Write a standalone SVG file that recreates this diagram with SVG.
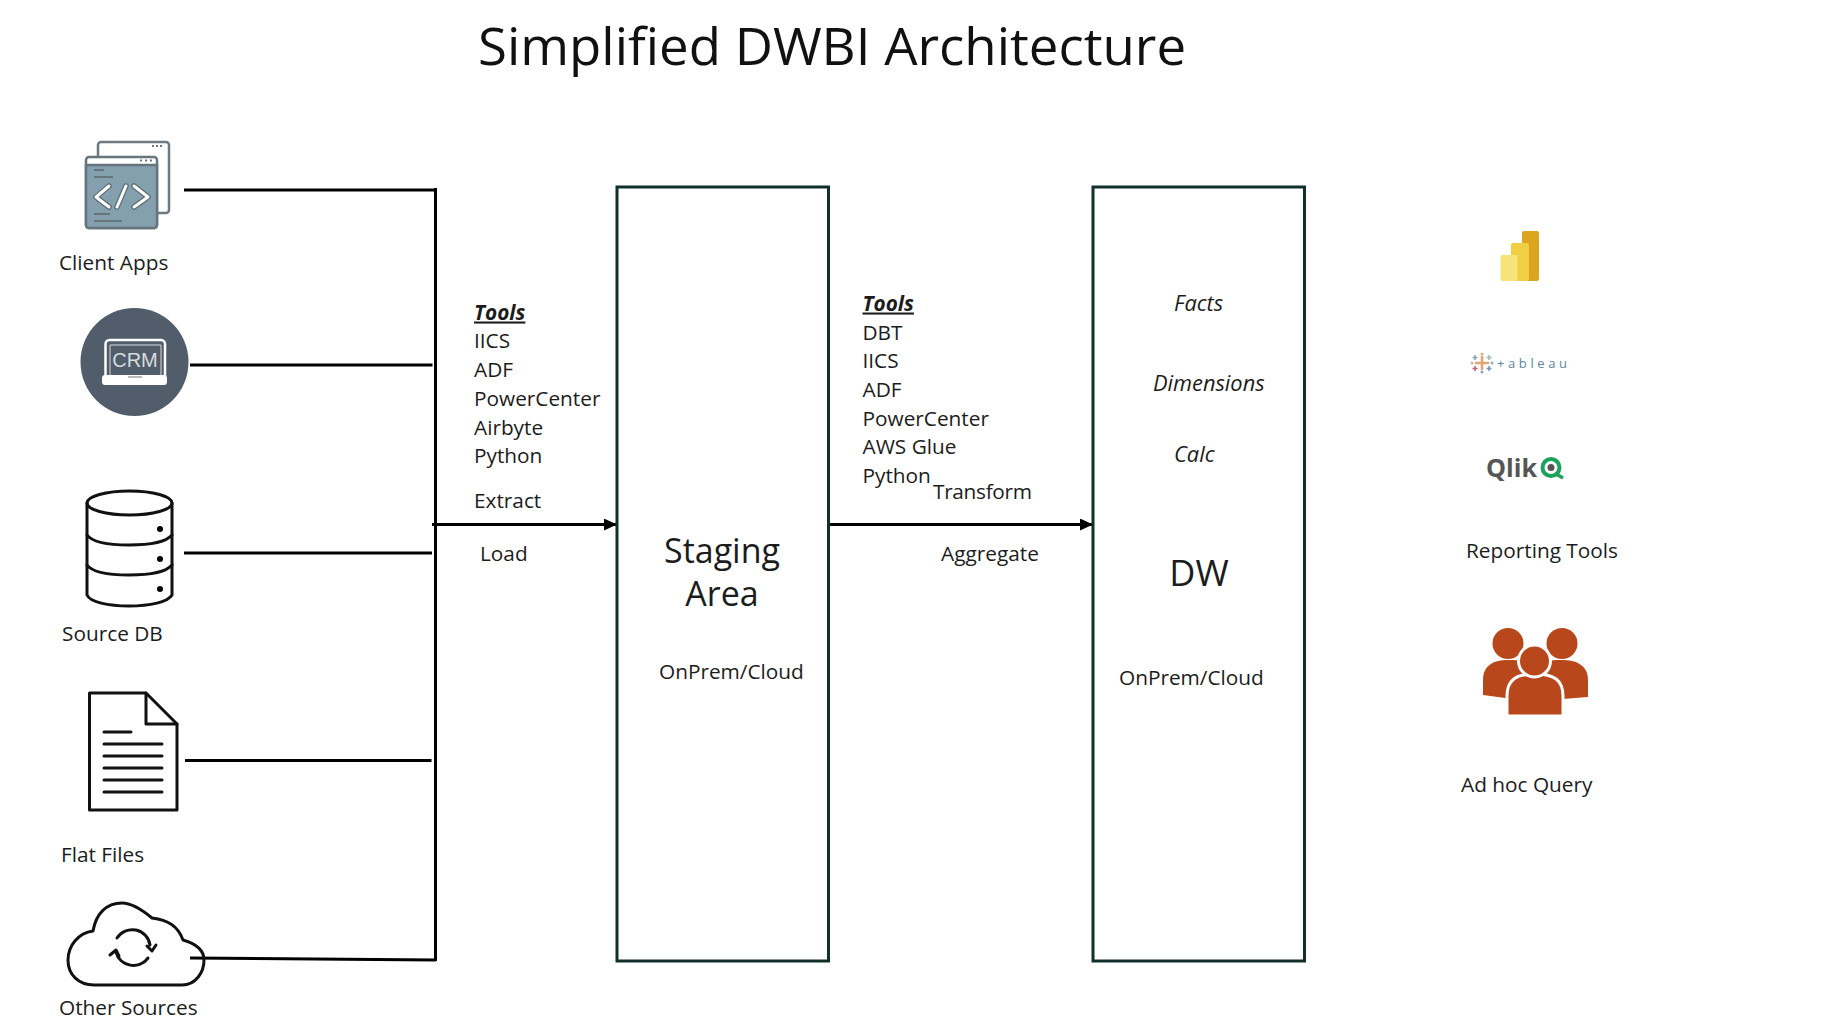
<svg xmlns="http://www.w3.org/2000/svg" width="1830" height="1029" viewBox="0 0 1830 1029">
<style>
text{font-family:"Open Sans","Noto Sans","Liberation Sans",sans-serif;font-size:20.8px;fill:#1c1c1c}
.i{font-style:italic;font-size:21.8px}
.h{font-style:italic;font-weight:700;text-decoration:underline}
.big{font-size:34px}
.box{fill:#fff;stroke:#12302b;stroke-width:3}
.c{fill:none;stroke:#000;stroke-width:3}
.k{fill:none;stroke:#111;stroke-width:3;stroke-linejoin:round;stroke-linecap:round}
</style>
<defs><marker id="a" markerWidth="13" markerHeight="12" refX="12" refY="6" orient="auto" markerUnits="userSpaceOnUse"><path d="M0 0L13 6L0 12z" fill="#000"/></marker></defs>
<rect width="1830" height="1029" fill="#fff"/>
<text id="title" x="478" y="64.500" style="font-size:51px;fill:#111" textLength="708" lengthAdjust="spacingAndGlyphs">Simplified DWBI Architecture</text>
<g id="connectors">
<path class="c" d="M184 190H436"/><path class="c" d="M190 365H432.500"/><path class="c" d="M184 553H432"/><path class="c" d="M185 760.500H431.500"/><path class="c" d="M190 958L436 960"/>
<path class="c" d="M435.500 188V961"/>
<path class="c" d="M432 524.500H616" marker-end="url(#a)"/>
<path class="c" d="M828 524.500H1092" marker-end="url(#a)"/>
</g>
<g id="client-apps">
<rect x="98" y="142" width="71" height="71" rx="3" fill="#fff" stroke="#6d7a80" stroke-width="2.500"/>
<path d="M152 146h2M156 146h2M160 146h2" stroke="#6d7a80" stroke-width="2"/>
<rect x="86" y="157" width="71" height="71" rx="3" fill="#fff" stroke="#66757b" stroke-width="2.500"/>
<path d="M140 160.500h2M145 160.500h2M150 160.500h2" stroke="#66757b" stroke-width="2"/>
<path d="M86 165V225a3 3 0 0 0 3 3H154a3 3 0 0 0 3-3V165z" fill="#84a0ae" stroke="#66757b" stroke-width="2.500"/>
<path d="M109 186L96 197L109 207M134 186L148 197L134 207M126 186L117 207" fill="none" stroke="#5c6c72" stroke-width="5.500" stroke-linecap="round" stroke-linejoin="round"/>
<path d="M109 186L96 197L109 207M134 186L148 197L134 207M126 186L117 207" fill="none" stroke="#fff" stroke-width="3" stroke-linecap="round" stroke-linejoin="round"/>
<path d="M94 170H104M94 177H113M94 214H110M94 221H122" stroke="#66757b" stroke-width="2"/>
<text x="59" y="270">Client Apps</text>
</g>
<g id="crm">
<circle cx="134.500" cy="362" r="54" fill="#515d6b"/>
<path d="M105.500 376V344a4 4 0 0 1 4-4H161a4 4 0 0 1 4 4V376" fill="none" stroke="#fff" stroke-width="2.500"/>
<path d="M110 376V345H161V376" fill="none" stroke="#d5d8dc" stroke-width="1"/>
<rect x="102" y="375" width="65" height="10" rx="3" fill="#fff"/>
<path d="M128 377H142" stroke="#9aa2aa" stroke-width="1.500"/>
<text x="135" y="367" text-anchor="middle" style="font-family:'Liberation Sans',sans-serif;font-size:20px;fill:#d8dbde">CRM</text>
</g>
<g id="source-db">
<path class="k" d="M87 503V595C90 602 108 606 129 606S168 602 172 595V503"/>
<ellipse class="k" cx="129.500" cy="503" rx="42.500" ry="12"/>
<path class="k" d="M87 535C92 542 108 545 129 545S166 542 172 535M87 565C92 572 108 575 129 575S166 572 172 565"/>
<circle cx="160" cy="529" r="3"/><circle cx="160" cy="559" r="3"/><circle cx="160" cy="589" r="3"/>
<text x="62" y="641">Source DB</text>
</g>
<g id="flat-files">
<path class="k" d="M89.500 693H146L177 724V810H89.500z"/>
<path class="k" d="M146 693V724H177"/>
<path d="M104 732H131M104 744H162M104 756H162M104 768H162M104 780H162M104 792H162" stroke="#111" stroke-width="3" stroke-linecap="round"/>
<text x="61" y="862">Flat Files</text>
</g>
<g id="other-sources">
<path class="k" d="M94 985H182C196 985 204 972 204 960C204 950 197 944 183 940C178 926 168 920 152 918C140 908 130 903 122 903C106 903 96 914 93 931C78 933 68 946 68 960C68 975 79 985 94 985z"/>
<path class="k" d="M117 938A18 18 0 0 1 150 945M148 958A18 18 0 0 1 116 952M147 946L152 951L156 945M110 955L116 950L119 956"/>
<text x="59" y="1015">Other Sources</text>
</g>
<g id="etl-tools">
<text class="h" x="474" y="319.500">Tools</text>
<text x="474" y="348">IICS</text><text x="474" y="377">ADF</text><text x="474" y="406">PowerCenter</text><text x="474" y="435">Airbyte</text><text x="474" y="463">Python</text>
<text x="474" y="508">Extract</text><text x="480" y="561">Load</text>
</g>
<g id="staging">
<rect class="box" x="617" y="187" width="211.500" height="774"/>
<text class="big" x="722" y="563" text-anchor="middle">Staging</text>
<text class="big" x="722" y="606" text-anchor="middle">Area</text>
<text x="659" y="679">OnPrem/Cloud</text>
</g>
<g id="elt-tools">
<text class="h" x="862.500" y="310.500">Tools</text>
<text x="862.500" y="340">DBT</text><text x="862.500" y="368">IICS</text><text x="862.500" y="397">ADF</text><text x="862.500" y="426">PowerCenter</text><text x="862.500" y="454">AWS Glue</text><text x="862.500" y="483">Python</text>
<text x="933" y="499" textLength="99">Transform</text><text x="941" y="561">Aggregate</text>
</g>
<g id="dw">
<rect class="box" x="1093" y="187" width="211.500" height="774"/>
<text class="i" x="1174" y="311">Facts</text><text class="i" x="1153" y="391">Dimensions</text><text class="i" x="1174" y="462">Calc</text>
<text class="big" x="1199" y="586" text-anchor="middle" style="font-size:36px">DW</text>
<text x="1119" y="685">OnPrem/Cloud</text>
</g>
<g id="power-bi">
<rect x="1522" y="231" width="17" height="50" rx="2" fill="#dba51f"/>
<rect x="1511" y="243" width="18" height="38" rx="2" fill="#f0cf45"/>
<rect x="1500.500" y="255" width="17" height="26" rx="2" fill="#f6e37a"/>
</g>
<g id="tableau" opacity="0.85">
<path d="M1482 356v14M1475 363h14" stroke="#e0935a" stroke-width="2.500"/>
<path d="M1475 355v5M1472.500 357.500h5" stroke="#6f97ad" stroke-width="1.500"/><path d="M1489 355v5M1486.500 357.500h5" stroke="#8fb0a0" stroke-width="1.500"/><path d="M1475 366v5M1472.500 368.500h5" stroke="#c0405f" stroke-width="1.500"/><path d="M1489 366v5M1486.500 368.500h5" stroke="#5c7f9e" stroke-width="1.500"/>
<circle cx="1482" cy="354" r="1.500" fill="#d8a070"/><circle cx="1482" cy="372" r="1.500" fill="#7090a8"/><circle cx="1472" cy="363" r="1.500" fill="#c9a890"/><circle cx="1492" cy="363" r="1.500" fill="#7ba0b8"/>
<text x="1497" y="368" style="font-size:13px;fill:#44708f" textLength="70">+ableau</text>
</g>
<g id="qlik">
<text x="1486" y="477" style="font-size:25px;font-weight:700;fill:#555" textLength="51" lengthAdjust="spacingAndGlyphs">Qlik</text>
<circle cx="1551" cy="467.500" r="8.500" fill="none" stroke="#1aa35a" stroke-width="4"/><circle cx="1551" cy="467.500" r="3.500" fill="#555"/><path d="M1556 474L1563 478" stroke="#1aa35a" stroke-width="3.500"/>
<text x="1466" y="558">Reporting Tools</text>
</g>
<g id="ad-hoc">
<g fill="#b8481b"><circle cx="1508" cy="643.500" r="15.500"/><circle cx="1562" cy="643.500" r="15.500"/>
<path d="M1483 695V680C1483 665 1494 660 1508 660S1525 662 1525 662L1520 700z"/><path d="M1588 697V680C1588 665 1576 660 1562 660S1545 662 1545 662L1550 700z"/>
<path d="M1507 716V696C1507 680 1516 674 1535 674S1563 680 1563 696V716z" stroke="#fff" stroke-width="3"/>
<circle cx="1534.500" cy="661" r="16" stroke="#fff" stroke-width="3"/></g>
<text x="1461" y="792">Ad hoc Query</text>
</g>
</svg>
